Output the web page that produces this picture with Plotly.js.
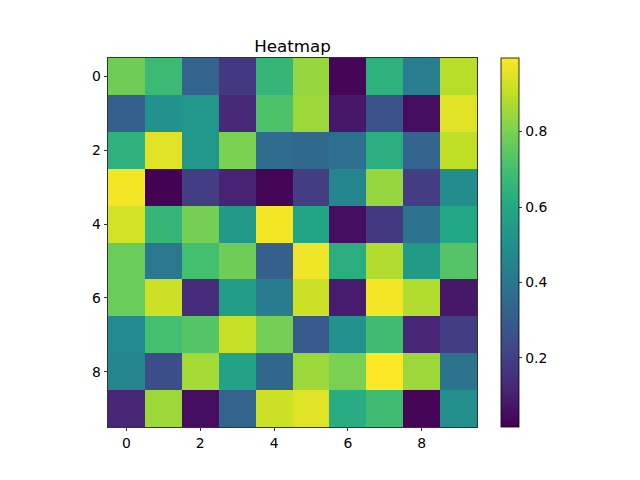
<!DOCTYPE html>
<html><head><meta charset="utf-8">
<script src="https://cdn.plot.ly/plotly-3.0.1.min.js"></script>
<style>html,body{margin:0;padding:0;background:#fff}#chart{width:640px;height:480px}</style>
</head><body><div id="chart"></div>
<script>
const xLabels = [0,1,2,3,4,5,6,7,8,9];
const yLabels = [0,1,2,3,4,5,6,7,8,9];
const row0 = [0.78, 0.68, 0.33, 0.18, 0.66, 0.84, 0.03, 0.64, 0.43, 0.89];
const row1 = [0.31, 0.51, 0.53, 0.13, 0.72, 0.85, 0.08, 0.27, 0.05, 0.95];
const row2 = [0.64, 0.95, 0.53, 0.80, 0.36, 0.35, 0.37, 0.63, 0.33, 0.90];
const row3 = [0.98, 0.02, 0.19, 0.11, 0.03, 0.19, 0.46, 0.84, 0.19, 0.49];
const row4 = [0.93, 0.66, 0.79, 0.54, 0.98, 0.59, 0.05, 0.18, 0.39, 0.60];
const row5 = [0.77, 0.41, 0.70, 0.78, 0.31, 0.97, 0.63, 0.88, 0.55, 0.73];
const row6 = [0.77, 0.92, 0.14, 0.56, 0.42, 0.92, 0.09, 0.98, 0.88, 0.08];
const row7 = [0.48, 0.70, 0.73, 0.91, 0.79, 0.29, 0.51, 0.69, 0.12, 0.19];
const row8 = [0.46, 0.25, 0.86, 0.58, 0.34, 0.85, 0.80, 0.99, 0.85, 0.39];
const row9 = [0.12, 0.85, 0.05, 0.33, 0.92, 0.95, 0.62, 0.69, 0.03, 0.50];
const zValues = [row0,row1,row2,row3,row4,row5,row6,row7,row8,row9];
const cbTicks = [0.2, 0.4, 0.6, 0.8];
const xTicks = [0, 2, 4, 6, 8];
const yTicks = [0, 2, 4, 6, 8];
const viridisHex = ['#440154','#482475','#414487','#355f8d','#2a788e','#21918c','#22a884','#44bf70','#7ad151','#bddf26','#fde725'];
const viridis = viridisHex.map((c, i) => [i / (viridisHex.length - 1), c]);

const font = {family: 'DejaVu Sans', size: 13.9, color: '#000'};
const trace = {
  type: 'heatmap', x: xLabels, y: yLabels, z: zValues,
  colorscale: viridis, zsmooth: false, zmin: 0.017, zmax: 0.995,
  hoverinfo: 'skip',
  colorbar: {
    x: 1.065, xanchor: 'left', xref: 'paper', y: 0.5, yanchor: 'middle',
    len: 1, lenmode: 'fraction', thickness: 18, thicknessmode: 'pixels',
    outlinewidth: 0.8, outlinecolor: '#000', xpad: 0, ypad: 0,
    tickvals: cbTicks, ticktext: cbTicks.map(v => v.toFixed(1)),
    ticks: 'outside', ticklen: 3.5, tickwidth: 0.8, tickcolor: '#000',
    tickfont: font
  }
};
const axisCommon = {
  showgrid: false, zeroline: false, showline: true, mirror: true,
  linecolor: '#000', linewidth: 0.8, ticks: 'outside', ticklen: 3.5,
  tickwidth: 0.8, tickcolor: '#000', tickfont: font
};
const layout = {
  width: 640, height: 480,
  margin: {l: 108, r: 163, t: 58, b: 53, pad: 0},
  paper_bgcolor: '#fff', plot_bgcolor: '#fff',
  title: {text: 'Heatmap', font: {family: 'DejaVu Sans', size: 16.7, color: '#000'},
          xref: 'paper', x: 0.5, xanchor: 'center', yref: 'paper', y: 1, yanchor: 'bottom', pad: {b: 6}},
  xaxis: Object.assign({}, axisCommon, {range: [-0.5, 9.5], tickvals: xTicks, ticktext: xTicks.map(String)}),
  yaxis: Object.assign({}, axisCommon, {range: [9.5, -0.5], tickvals: yTicks, ticktext: yTicks.map(String)})
};
Plotly.newPlot('chart', [trace], layout, {displayModeBar: false, staticPlot: true});
</script></body></html>
